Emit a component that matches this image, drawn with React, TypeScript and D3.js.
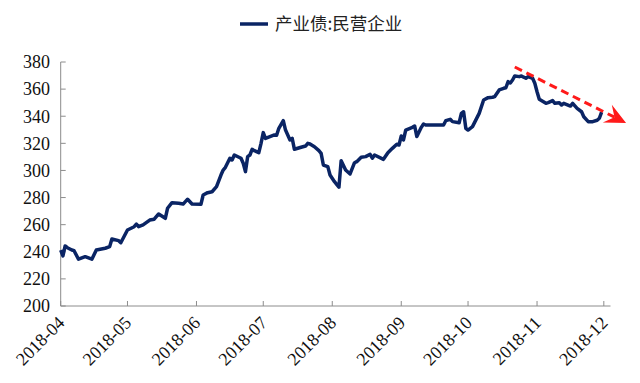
import React from "react";
import * as d3 from "d3";

const seriesName = "产业债:民营企业";
const dates = [
  "2018-04-01","2018-04-02","2018-04-03","2018-04-04","2018-04-06","2018-04-07","2018-04-09","2018-04-12","2018-04-15","2018-04-17",
  "2018-04-21","2018-04-23","2018-04-24","2018-04-27","2018-04-28","2018-05-01","2018-05-04","2018-05-05","2018-05-06","2018-05-08",
  "2018-05-11","2018-05-13","2018-05-15","2018-05-18","2018-05-19","2018-05-21","2018-05-24","2018-05-26","2018-05-27","2018-05-28",
  "2018-05-30","2018-06-03","2018-06-04","2018-06-06","2018-06-08","2018-06-10","2018-06-12","2018-06-13","2018-06-14","2018-06-16",
  "2018-06-17","2018-06-18","2018-06-21","2018-06-22","2018-06-23","2018-06-24","2018-06-25","2018-06-26","2018-06-27","2018-06-29",
  "2018-06-30","2018-07-01","2018-07-02","2018-07-04","2018-07-06","2018-07-07","2018-07-08","2018-07-10","2018-07-11","2018-07-13",
  "2018-07-14","2018-07-15","2018-07-18","2018-07-20","2018-07-21","2018-07-22","2018-07-24","2018-07-26","2018-07-27","2018-07-28",
  "2018-07-30","2018-07-31","2018-08-02","2018-08-04","2018-08-05","2018-08-07","2018-08-09","2018-08-11","2018-08-12","2018-08-14",
  "2018-08-16","2018-08-18","2018-08-19","2018-08-20","2018-08-24","2018-08-26","2018-08-28","2018-08-30","2018-08-31","2018-09-01",
  "2018-09-02","2018-09-03","2018-09-06","2018-09-07","2018-09-08","2018-09-10","2018-09-11","2018-09-12","2018-09-14","2018-09-20",
  "2018-09-21","2018-09-23","2018-09-24","2018-09-27","2018-09-28","2018-09-29","2018-09-30","2018-10-01","2018-10-03","2018-10-06",
  "2018-10-08","2018-10-10","2018-10-12","2018-10-13","2018-10-15","2018-10-17","2018-10-18","2018-10-19","2018-10-20","2018-10-21",
  "2018-10-22","2018-10-24","2018-10-25","2018-10-26","2018-10-27","2018-10-28","2018-10-30","2018-10-31","2018-11-01","2018-11-02",
  "2018-11-05","2018-11-06","2018-11-08","2018-11-09","2018-11-11","2018-11-12","2018-11-13","2018-11-16","2018-11-17","2018-11-19",
  "2018-11-21","2018-11-22","2018-11-24","2018-11-26","2018-11-28","2018-11-29","2018-11-30"
];
const values = [
  241.3,237.0,244.3,243.0,241.3,240.8,234.5,236.4,234.5,241.3,
  242.6,243.8,249.4,248.2,246.7,256.1,258.5,260.5,258.5,259.8,
  263.4,264.0,267.9,264.7,272.1,276.2,275.8,275.2,277.0,278.7,
  275.2,275.0,281.9,283.6,284.3,288.0,296.6,300.3,302.3,309.0,
  307.7,311.4,309.0,305.3,299.1,310.2,311.4,315.6,314.6,313.1,
  320.0,327.9,323.7,325.0,326.2,326.0,331.1,336.7,329.8,322.5,
  323.7,315.6,317.1,318.0,320.0,319.5,317.5,314.6,312.6,304.0,
  302.8,296.6,291.7,287.6,307.2,300.3,297.4,305.7,306.5,309.7,
  310.2,311.9,309.0,311.4,308.2,313.1,316.3,319.3,318.8,325.4,
  322.5,329.8,331.8,332.8,325.0,331.8,334.3,333.5,333.5,333.5,
  336.7,337.7,336.0,335.2,342.1,343.3,331.1,329.8,332.3,342.1,
  352.0,353.7,354.0,354.5,359.4,360.6,361.0,365.5,364.5,366.7,
  369.7,369.2,369.7,368.8,368.0,369.2,368.0,364.3,358.1,352.5,
  349.5,350.0,351.5,349.5,350.0,348.3,349.5,347.5,349.5,345.8,
  343.3,339.6,336.0,336.0,337.0,338.5,343.0
];
const yTicks = [200, 220, 240, 260, 280, 300, 320, 340, 360, 380];
const xTickLabels = ["2018-04","2018-05","2018-06","2018-07","2018-08","2018-09","2018-10","2018-11","2018-12"];
const arrowDates = ["2018-10-22", "2018-12-11"];
const arrowValues = [376.3, 335.0];

const parse = d3.timeParse("%Y-%m-%d");
const parseMonth = d3.timeParse("%Y-%m");

export default function App() {
  const W = 640, H = 383;
  const x = d3.scaleTime()
    .domain([parse("2018-04-01")!, parse("2018-12-04")!])
    .range([60.7, 610.5]);
  const y = d3.scaleLinear().domain([200, 380]).range([306, 62]);
  const data = dates.map((d, i) => ({ date: parse(d)!, value: values[i] }));
  const line = d3.line<{ date: Date; value: number }>()
    .x(d => x(d.date))
    .y(d => y(d.value));

  const x0 = x.range()[0], x1 = x.range()[1];
  const yb = y(200), yt = y(380);
  const navy = "#0a2464";
  const axisColor = "#8c8c8c";
  const serif = "'Liberation Serif', 'Times New Roman', serif";

  // arrow
  const ax0 = x(parse(arrowDates[0])!), ay0 = y(arrowValues[0]);
  const ax1 = x(parse(arrowDates[1])!), ay1 = y(arrowValues[1]);
  const len = Math.hypot(ax1 - ax0, ay1 - ay0);
  const ux = (ax1 - ax0) / len, uy = (ay1 - ay0) / len;
  const nx = -uy, ny = ux;
  const headL = 21, headW = 10, notch = 13;
  const bx = ax1 - ux * headL, by = ay1 - uy * headL;
  const mx = ax1 - ux * notch, my = ay1 - uy * notch;
  const headPath = `M${ax1},${ay1}L${bx + nx * headW},${by + ny * headW}L${mx},${my}L${bx - nx * headW},${by - ny * headW}Z`;

  return (
    <svg width={W} height={H} style={{ display: "block", position: "absolute", left: 0, top: 0, background: "#fff" }}>
      <rect x={0} y={0} width={W} height={H} fill="#fff" />
      {/* legend */}
      <line x1={240} x2={268} y1={24} y2={24} stroke={navy} strokeWidth={3.5} />
      <text x={275} y={30} fontSize={17.5} fill="#222" fontFamily="'Noto Sans CJK SC', sans-serif">{seriesName}</text>

      {/* axes */}
      <line x1={x0} x2={x0} y1={yt} y2={yb} stroke={axisColor} strokeWidth={1} />
      <line x1={x0} x2={x1} y1={yb} y2={yb} stroke={axisColor} strokeWidth={1} />
      {yTicks.map(t => (
        <g key={t}>
          <line x1={x0} x2={x0 + 5} y1={y(t)} y2={y(t)} stroke={axisColor} strokeWidth={1} />
          <text x={50} y={y(t)} dy="0.35em" textAnchor="end" fontSize={18} fontFamily={serif} fill="#111">{t}</text>
        </g>
      ))}
      {xTickLabels.map(lbl => {
        const tx = x(parseMonth(lbl)!);
        return (
          <g key={lbl}>
            <line x1={tx} x2={tx} y1={yb} y2={yb - 5} stroke={axisColor} strokeWidth={1} />
            <text transform={`translate(${tx + 5},${yb + 18}) rotate(-45)`} textAnchor="end" fontSize={18} fontFamily={serif} fill="#111">{lbl}</text>
          </g>
        );
      })}

      {/* series */}
      <path d={line(data) || ""} fill="none" stroke={navy} strokeWidth={3.5} strokeLinejoin="round" />

      {/* annotation arrow */}
      <line x1={ax0} y1={ay0} x2={mx} y2={my} stroke="#ff1a1a" strokeWidth={3} strokeDasharray="8,5" />
      <path d={headPath} fill="#ff1a1a" />
    </svg>
  );
}
